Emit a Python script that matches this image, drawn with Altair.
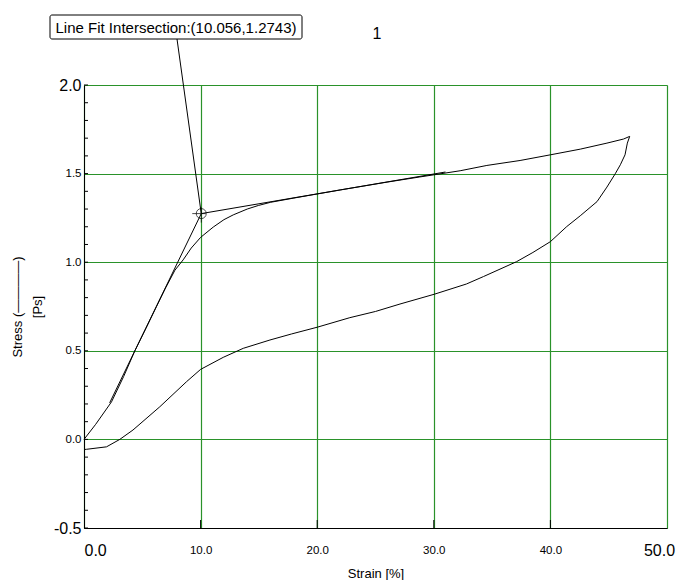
import altair as alt
import pandas as pd

FONT = "Liberation Sans"

# ---- data ----
load_strain = [0.0, 1.0, 2.36, 3.4, 4.36, 5.3, 6.22, 7.0, 7.8, 8.5, 9.2, 10.0, 11.08, 12.0,
               12.8, 14.0, 14.95, 16.0, 18.0, 20.0, 22.0, 24.0, 26.0, 28.8, 30.0, 32.26,
               34.55, 37.4, 40.0, 42.56, 44.85, 46.27, 46.8]
load_stress = [0.0, 0.085, 0.212, 0.355, 0.5, 0.625, 0.75, 0.855, 0.955, 1.013, 1.08, 1.14,
               1.198, 1.24, 1.267, 1.30, 1.32, 1.338, 1.362, 1.385, 1.408, 1.43, 1.452, 1.481,
               1.493, 1.516, 1.546, 1.574, 1.606, 1.638, 1.672, 1.695, 1.71]
unload_strain = [46.6, 46.4, 46.0, 45.56, 44.85, 44.0, 42.56, 41.4, 40.0, 38.5, 37.1, 34.26,
                 32.8, 30.03, 27.1, 25.0, 22.8, 20.0, 17.8, 15.95, 13.66, 11.94, 10.0, 8.8,
                 6.5, 4.2, 3.07, 1.93, 0.2, 0.0]
unload_stress = [1.672, 1.606, 1.55, 1.499, 1.424, 1.342, 1.262, 1.201, 1.116, 1.055, 1.003,
                 0.919, 0.877, 0.819, 0.764, 0.722, 0.687, 0.633, 0.595, 0.561, 0.514, 0.463,
                 0.395, 0.326, 0.184, 0.053, 0.0, -0.042, -0.056, -0.057]

fit_segment = ["elastic", "elastic", "plastic", "plastic"]
fit_strain = [2.2, 10.056, 10.056, 31.0]
fit_stress = [0.206, 1.2743, 1.2743, 1.509]

cross_strain = [10.056]
cross_stress = [1.2743]
annotation = ["Line Fit Intersection:(10.056,1.2743)"]
chart_title = ["1"]

x_ticks = [0, 10, 20, 30, 40, 50]
x_inner_ticks = [10, 20, 30, 40]
y_ticks = [-0.5, 0.0, 0.5, 1.0, 1.5, 2.0]
y_minor = [-0.5, -0.4, -0.3, -0.2, -0.1, 0.0, 0.1, 0.2, 0.3, 0.4, 0.5, 0.6, 0.7, 0.8, 0.9,
           1.0, 1.1, 1.2, 1.3, 1.4, 1.5, 1.6, 1.7, 1.8, 1.9, 2.0]

# ---- tables ----
strain_all = load_strain + unload_strain
curve = pd.DataFrame({
    "strain": strain_all,
    "stress": load_stress + unload_stress,
    "order": list(range(len(strain_all))),
})
fits = pd.DataFrame({"segment": fit_segment, "strain": fit_strain, "stress": fit_stress})
cross = pd.DataFrame({"strain": cross_strain, "stress": cross_stress, "label": annotation})
title_df = pd.DataFrame({"t": chart_title})
xt = pd.DataFrame({"strain": x_inner_ticks})
yt = pd.DataFrame({"stress": y_minor})

GRID = "#2a922a"
xscale = alt.Scale(domain=[0, 50], nice=False, zero=False)
yscale = alt.Scale(domain=[-0.5, 2.0], nice=False, zero=False)

xaxis = alt.Axis(
    values=x_ticks, grid=True, gridColor=GRID, gridWidth=1.2, gridOpacity=1,
    ticks=False, domainColor="black",
    labelExpr="format(datum.value, '.1f')",
    labelFontSize={"condition": {"test": "datum.value == 0 || datum.value == 50", "value": 16},
                   "value": 11.5},
    labelAlign={"condition": {"test": "datum.value == 0", "value": "left"}, "value": "center"},
    labelOffset={"condition": {"test": "datum.value == 50", "value": -8}, "value": 0},
    labelFlush=False, labelOverlap=False, labelBaseline="middle", labelPadding=22,
    labelColor="black", labelFont=FONT,
    title="Strain [%]", titleFont=FONT, titleFontSize=13, titleFontWeight="normal",
    titleColor="black", titleY=45, titleBaseline="middle",
)
yaxis = alt.Axis(
    values=y_ticks, grid=True, gridColor=GRID, gridWidth=1.2, gridOpacity=1,
    ticks=False, domainColor="black",
    labelExpr="replace(format(datum.value, '.1f'), '\u2212', '-')",
    labelFontSize={"condition": {"test": "datum.value == 2 || datum.value == -0.5", "value": 16},
                   "value": 11.5},
    labelFlush=False, labelOverlap=False, labelPadding=3, labelBaseline="middle",
    labelColor="black", labelFont=FONT,
    title=["Stress (\u2014\u2014\u2014\u2014)", "[Ps]"], titleFont=FONT, titleFontSize=13,
    titleFontWeight="normal", titleColor="black", titleX=-67, titleY=221.5,
    titleAlign="center", titleBaseline="middle", titleLineHeight=20, titleAngle=-90,
)

X = alt.X("strain:Q", scale=xscale, axis=xaxis)
Y = alt.Y("stress:Q", scale=yscale, axis=yaxis)

curve_layer = alt.Chart(curve).mark_line(color="black", strokeWidth=1).encode(
    x=X, y=Y, order="order:Q",
)

fit_layer = alt.Chart(fits).mark_line(color="black", strokeWidth=1).encode(
    x=X, y=Y, detail="segment:N",
)

ytick_layer = alt.Chart(yt).mark_rule(color="black", strokeWidth=1).encode(
    y=Y, x=alt.value(0), x2=alt.value(4),
)
xtick_layer = alt.Chart(xt).mark_rule(color="black", strokeWidth=1).encode(
    x=X, y=alt.value(443), y2=alt.value(435),
)

leader = alt.Chart(cross).mark_rule(color="black", strokeWidth=1).encode(
    x=X, y=Y, x2=alt.value(93), y2=alt.value(-46),
)
circle = alt.Chart(cross).mark_point(shape="circle", size=100, color="black",
                                     strokeWidth=1, filled=False).encode(
    x=X, y=Y,
)
crosshair = alt.Chart(cross).mark_point(shape="M-1,0L0.5,0M0,-0.7L0,1", size=324,
                                        color="black", strokeWidth=1, filled=False).encode(
    x=X, y=Y,
)
box = alt.Chart(cross).mark_rect(fill="white", stroke="black", strokeWidth=1,
                                 cornerRadius=2).encode(
    x=alt.value(-34), x2=alt.value(218), y=alt.value(-70), y2=alt.value(-46),
)
label = alt.Chart(cross).mark_text(font=FONT, fontSize=15, color="black",
                                   align="center", baseline="middle").encode(
    x=alt.value(92), y=alt.value(-57), text="label:N",
)
title_layer = alt.Chart(title_df).mark_text(font=FONT, fontSize=16, color="black",
                                            align="center", baseline="middle").encode(
    x=alt.value(293), y=alt.value(-51), text="t:N",
)

chart = alt.layer(
    curve_layer, fit_layer, ytick_layer, xtick_layer, leader, circle, crosshair, box, label,
    title_layer
).properties(
    width=583, height=443,
    autosize=alt.AutoSizeParams(type="none"),
    padding={"left": 76, "top": 77, "right": 9, "bottom": 52},
).configure_view(
    stroke="black", strokeWidth=1
).configure(
    background="white"
)

chart.save("out.html", embed_options={"renderer": "svg", "actions": False})
